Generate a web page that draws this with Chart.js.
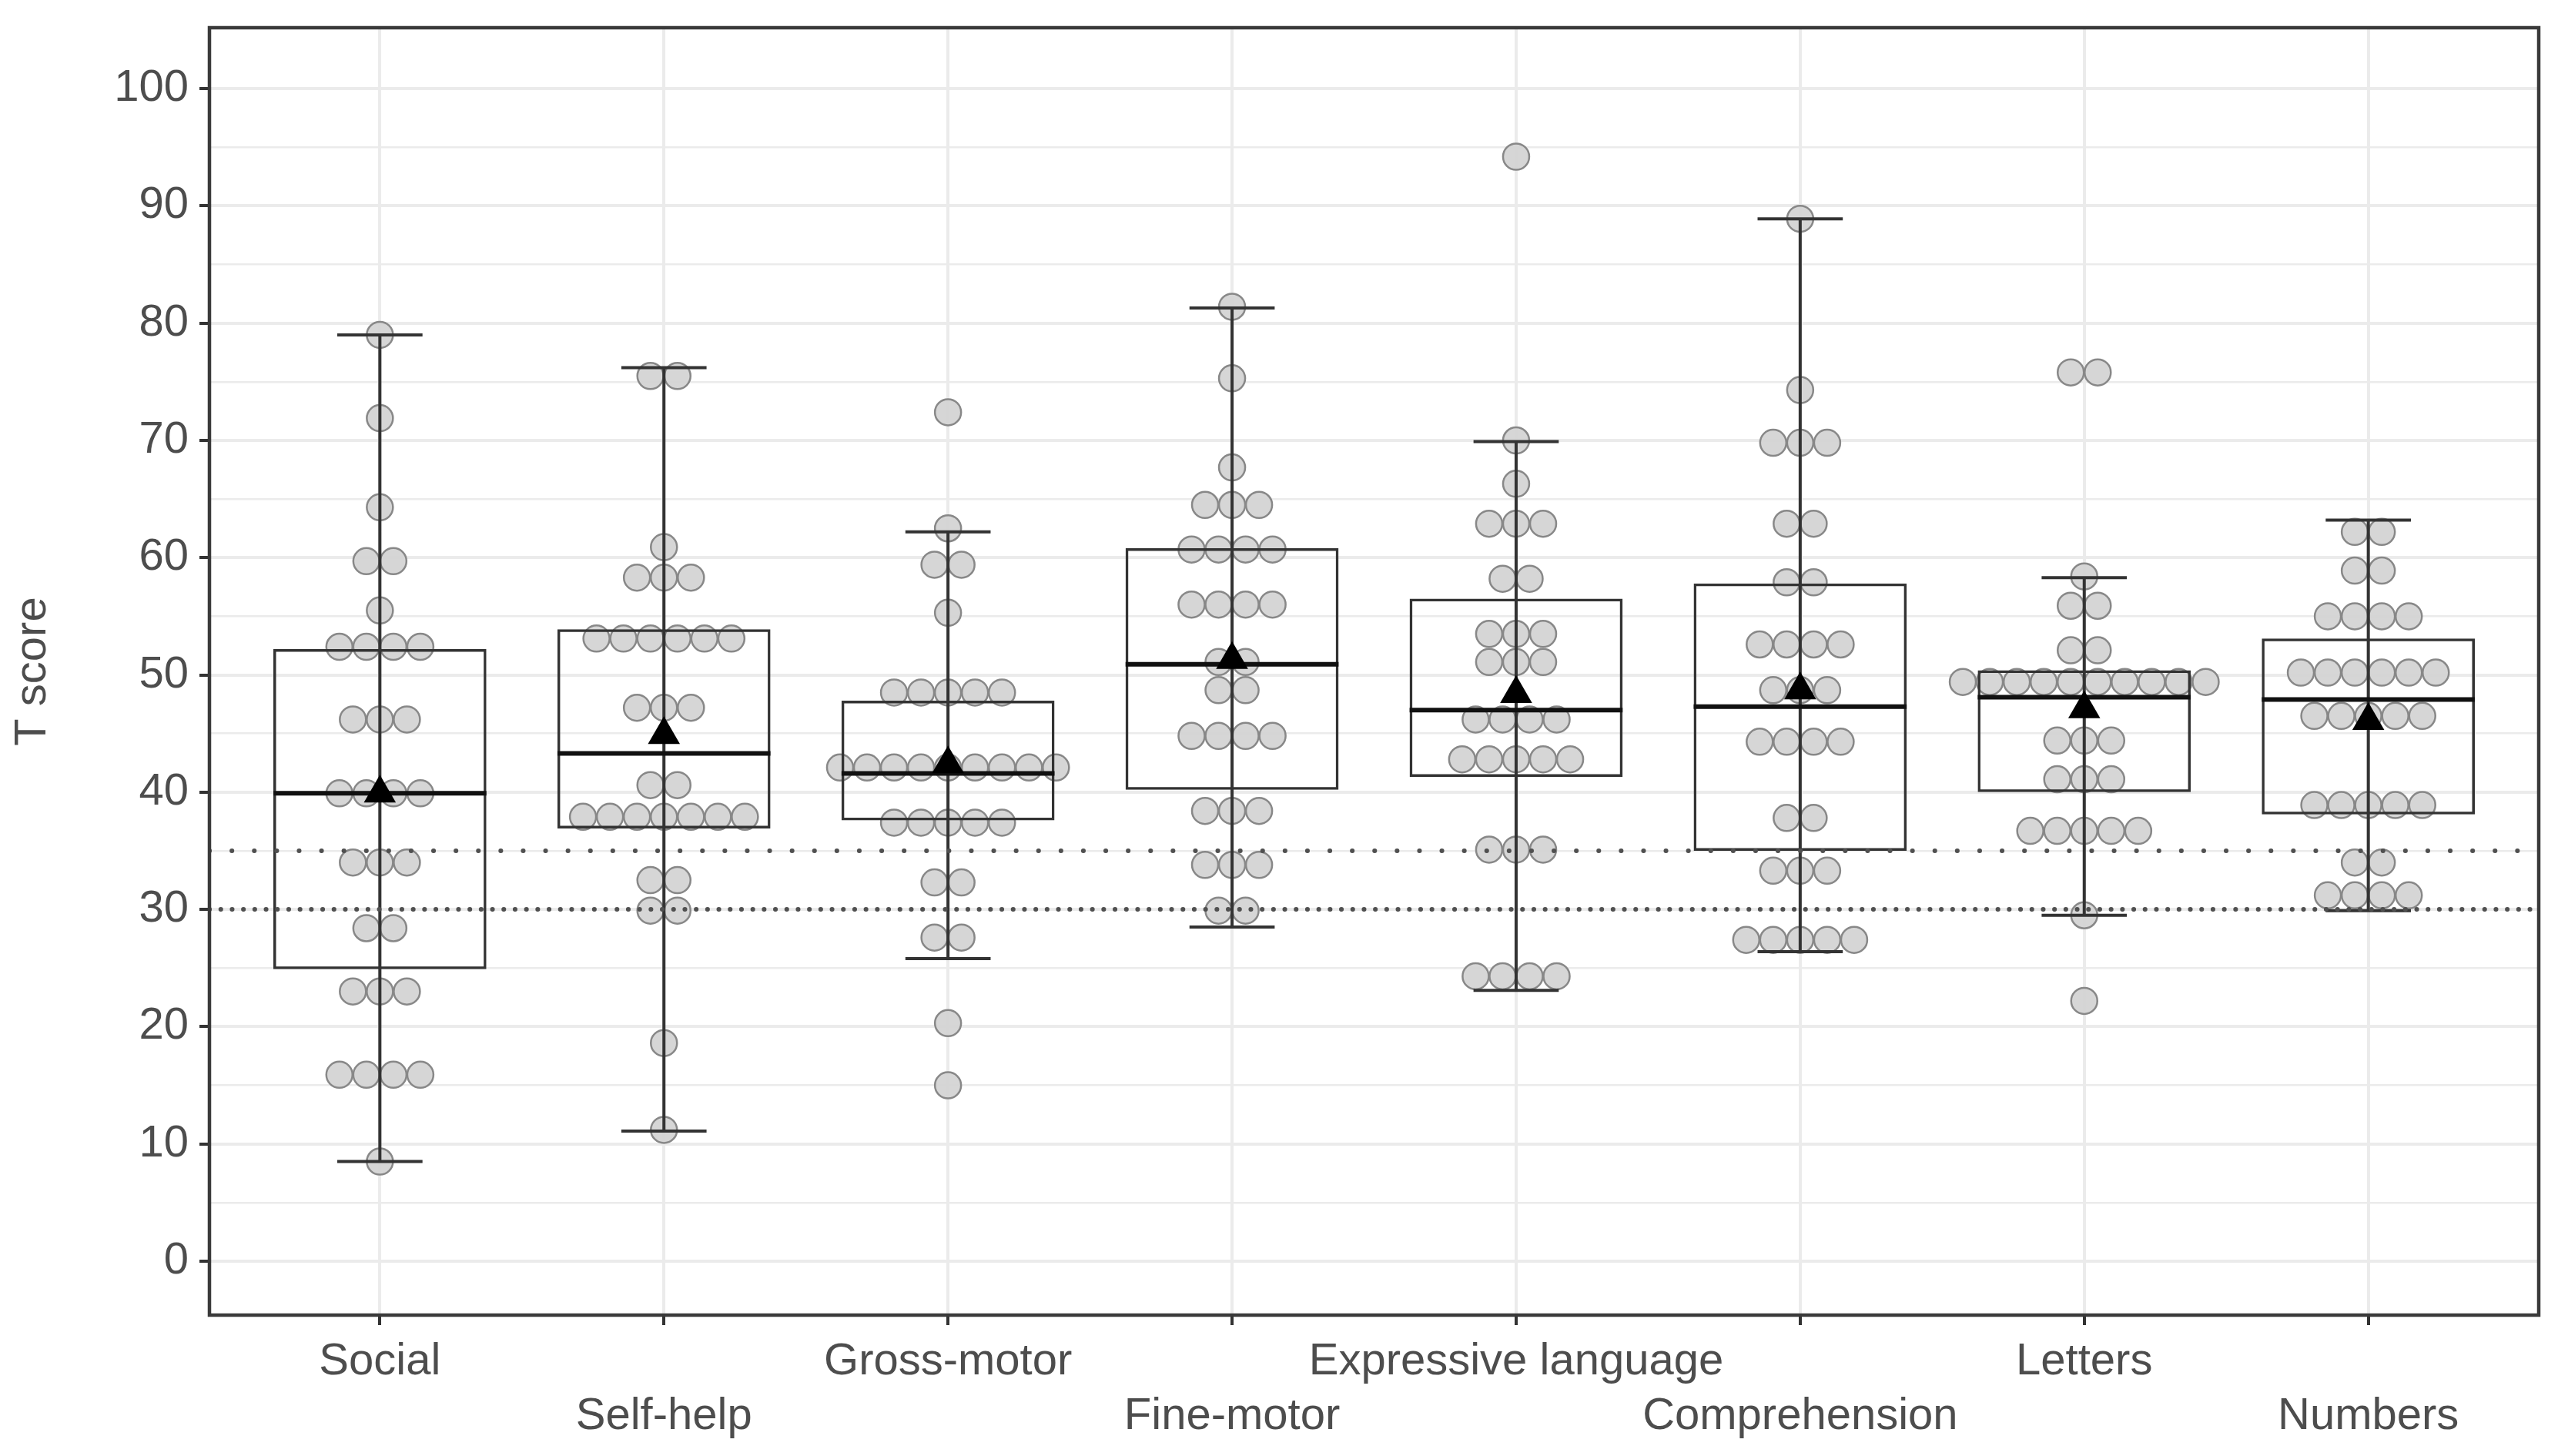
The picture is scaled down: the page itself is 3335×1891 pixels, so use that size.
<!DOCTYPE html>
<html>
<head>
<meta charset="utf-8">
<script src="https://cdn.jsdelivr.net/npm/chart.js@4.4.1/dist/chart.umd.min.js"></script>
<style>
  html, body { margin: 0; padding: 0; background: #fff; }
  canvas { display: block; }
</style>
</head>
<body>
<canvas id="chart" width="3335" height="1891"></canvas>
<script>
// categories on the x axis
const categories = ["Social", "Self-help", "Gross-motor", "Fine-motor",
                    "Expressive language", "Comprehension", "Letters", "Numbers"];

// individual T scores (dotplot bins)
const social = [79.0, 71.9, 64.3, 59.7, 59.7, 55.5, 52.4, 52.4, 52.4, 52.4,
                46.2, 46.2, 46.2, 39.9, 39.9, 39.9, 39.9, 34.0, 34.0, 34.0,
                28.4, 28.4, 23.0, 23.0, 23.0, 15.9, 15.9, 15.9, 15.9, 8.5];
const selfHelp = [75.5, 75.5, 60.9, 58.3, 58.3, 58.3, 53.1, 53.1, 53.1, 53.1,
                  53.1, 53.1, 47.2, 47.2, 47.2, 40.6, 40.6, 37.9, 37.9, 37.9,
                  37.9, 37.9, 37.9, 37.9, 32.5, 32.5, 29.9, 29.9, 18.6, 11.2];
const grossMotor = [72.4, 62.5, 59.4, 59.4, 55.3, 48.5, 48.5, 48.5, 48.5, 48.5,
                    42.1, 42.1, 42.1, 42.1, 42.1, 42.1, 42.1, 42.1, 42.1, 37.4,
                    37.4, 37.4, 37.4, 37.4, 32.3, 32.3, 27.6, 27.6, 20.3, 15.0];
const fineMotor = [81.4, 75.3, 67.7, 64.5, 64.5, 64.5, 60.7, 60.7, 60.7, 60.7,
                   56.0, 56.0, 56.0, 56.0, 51.1, 51.1, 48.7, 48.7, 44.8, 44.8,
                   44.8, 44.8, 38.4, 38.4, 38.4, 33.8, 33.8, 33.8, 29.9, 29.9];
const expressive = [94.2, 70.0, 66.3, 62.9, 62.9, 62.9, 58.2, 58.2, 53.5, 53.5,
                    53.5, 51.1, 51.1, 51.1, 46.2, 46.2, 46.2, 46.2, 42.8, 42.8,
                    42.8, 42.8, 42.8, 35.1, 35.1, 35.1, 24.3, 24.3, 24.3, 24.3];
const comprehension = [88.9, 74.3, 69.8, 69.8, 69.8, 62.9, 62.9, 57.9, 57.9, 52.6,
                       52.6, 52.6, 52.6, 48.7, 48.7, 48.7, 44.3, 44.3, 44.3, 44.3,
                       37.8, 37.8, 33.3, 33.3, 33.3, 27.4, 27.4, 27.4, 27.4, 27.4];
const letters = [75.8, 75.8, 58.4, 55.9, 55.9, 52.1, 52.1, 49.4, 49.4, 49.4,
                 49.4, 49.4, 49.4, 49.4, 49.4, 49.4, 49.4, 44.4, 44.4, 44.4,
                 41.1, 41.1, 41.1, 36.7, 36.7, 36.7, 36.7, 36.7, 29.5, 22.2];
const numbers = [62.2, 62.2, 58.9, 58.9, 55.0, 55.0, 55.0, 55.0, 50.2, 50.2,
                 50.2, 50.2, 50.2, 50.2, 46.5, 46.5, 46.5, 46.5, 46.5, 38.9,
                 38.9, 38.9, 38.9, 38.9, 34.0, 34.0, 31.2, 31.2, 31.2, 31.2];

// box statistics per category
const q1 = [24.9, 36.9, 37.6, 40.2, 41.3, 35.0, 40.0, 38.1];
const medians = [39.9, 43.3, 41.6, 50.9, 47.0, 47.3, 48.1, 47.9];
const q3 = [52.2, 53.9, 47.8, 60.8, 56.5, 57.8, 50.4, 53.1];
const whiskerLow = [8.5, 11.1, 25.8, 28.5, 23.1, 26.4, 29.5, 29.9];
const whiskerHigh = [79.0, 76.2, 62.2, 81.3, 69.9, 88.9, 58.3, 63.2];
const means = [39.9, 44.9, 42.4, 51.3, 48.4, 48.7, 47.1, 46.1];

// reference lines and y ticks
const cutoffs = [35, 30];
const yTicks = [0, 10, 20, 30, 40, 50, 60, 70, 80, 90, 100];

const scoreLists = [social, selfHelp, grossMotor, fineMotor, expressive, comprehension, letters, numbers];

const FONT = "'Liberation Sans', Arial, sans-serif";
const TEXT = "#4d4d4d";
const X_MIN = 0.4, X_MAX = 8.6;
const Y_MIN = -4.6, Y_MAX = 105.2;
const BOX_W = 0.75, CAP_W = 0.3, DOT_STEP = 0.095;

// centre identical values side by side, like a centred dotplot
function stackDots(values, xc) {
  const pts = [];
  let i = 0;
  while (i < values.length) {
    let j = i;
    while (j < values.length && values[j] === values[i]) j++;
    const n = j - i;
    for (let k = 0; k < n; k++) {
      pts.push({ x: xc + (k - (n - 1) / 2) * DOT_STEP, y: values[i] });
    }
    i = j;
  }
  return pts;
}

const dotData = [];
scoreLists.forEach((vals, i) => dotData.push(...stackDots(vals, i + 1)));

const boxData = categories.map((_, i) => ({ x: i + 1, y: [q1[i], q3[i]] }));

const whiskerData = [];
const capData = [];
const medianData = [];
categories.forEach((_, i) => {
  const x = i + 1;
  whiskerData.push({ x, y: whiskerLow[i] }, { x, y: whiskerHigh[i] }, { x, y: null });
  capData.push({ x: x - CAP_W / 2, y: whiskerLow[i] }, { x: x + CAP_W / 2, y: whiskerLow[i] }, { x, y: null });
  capData.push({ x: x - CAP_W / 2, y: whiskerHigh[i] }, { x: x + CAP_W / 2, y: whiskerHigh[i] }, { x, y: null });
  medianData.push({ x: x - BOX_W / 2, y: medians[i] }, { x: x + BOX_W / 2, y: medians[i] }, { x, y: null });
});
const meanData = means.map((m, i) => ({ x: i + 1, y: m }));

const panelBorder = {
  id: "panelBorder",
  afterDraw(chart) {
    const { ctx, chartArea: a } = chart;
    ctx.save();
    ctx.strokeStyle = "#3a3a3a";
    ctx.lineWidth = 4.5;
    ctx.strokeRect(a.left, a.top, a.right - a.left, a.bottom - a.top);
    ctx.restore();
  }
};

const lineDefaults = { type: "line", pointRadius: 0, fill: false, spanGaps: false, borderColor: "#333" };

new Chart(document.getElementById("chart"), {
  type: "scatter",
  data: {
    datasets: [
      {
        label: "Scores",
        data: dotData,
        order: 10,
        pointRadius: 17,
        pointBorderWidth: 2.5,
        backgroundColor: "rgba(212,212,212,0.95)",
        borderColor: "#888"
      },
      {
        type: "bar",
        label: "IQR",
        data: boxData,
        order: 5,
        backgroundColor: "rgba(0,0,0,0)",
        borderColor: "#333",
        borderWidth: 3.5,
        borderSkipped: false,
        categoryPercentage: 1,
        barPercentage: BOX_W
      },
      Object.assign({}, lineDefaults, { label: "Whisker", data: whiskerData, order: 4, borderWidth: 4 }),
      Object.assign({}, lineDefaults, { label: "Caps", data: capData, order: 4, borderWidth: 4 }),
      Object.assign({}, lineDefaults, { label: "Median", data: medianData, order: 3, borderWidth: 6, borderColor: "#111" }),
      Object.assign({}, lineDefaults, {
        label: "Cut-off " + cutoffs[0],
        data: [{ x: X_MIN, y: cutoffs[0] }, { x: X_MAX, y: cutoffs[0] }],
        order: 2, borderWidth: 6, borderColor: "#505050",
        borderCapStyle: "round", borderDash: [0.1, 29]
      }),
      Object.assign({}, lineDefaults, {
        label: "Cut-off " + cutoffs[1],
        data: [{ x: X_MIN, y: cutoffs[1] }, { x: X_MAX, y: cutoffs[1] }],
        order: 2, borderWidth: 6, borderColor: "#505050",
        borderCapStyle: "round", borderDash: [0.1, 14.6]
      }),
      {
        label: "Mean",
        data: meanData,
        order: 1,
        pointStyle: "triangle",
        pointRadius: 24,
        pointBorderWidth: 0,
        backgroundColor: "#000",
        borderColor: "#000"
      }
    ]
  },
  options: {
    responsive: false,
    devicePixelRatio: 1,
    animation: false,
    layout: { padding: { top: 36, right: 38, left: 0, bottom: 0 } },
    plugins: { legend: { display: false }, tooltip: { enabled: false } },
    scales: {
      x: {
        type: "linear",
        min: X_MIN,
        max: X_MAX,
        offset: false,
        afterBuildTicks: (axis) => { axis.ticks = categories.map((_, i) => ({ value: i + 1 })); },
        afterFit: (axis) => {
          axis.height = 183;
          axis.paddingLeft = 0;
          axis.paddingRight = 0;
        },
        border: { display: false },
        grid: {
          offset: false,
          color: "#ebebeb",
          lineWidth: 4,
          tickLength: 13,
          tickColor: "#333",
          tickWidth: 4
        },
        ticks: {
          autoSkip: false,
          maxRotation: 0,
          padding: 13,
          color: TEXT,
          font: { family: FONT, size: 58, lineHeight: 1.22 },
          callback: (v) => {
            const i = Math.round(v) - 1;
            return i % 2 === 0 ? categories[i] : ["", categories[i]];
          }
        }
      },
      y: {
        type: "linear",
        min: Y_MIN,
        max: Y_MAX,
        afterFit: (axis) => {
          axis.width = 272;
          axis.paddingTop = 0;
          axis.paddingBottom = 0;
        },
        border: { display: false },
        grid: {
          color: (c) => (c.tick && (c.tick.value < 0 || c.tick.value > 100)) ? "rgba(0,0,0,0)" : "#ebebeb",
          lineWidth: (c) => (c.tick && yTicks.includes(c.tick.value)) ? 4 : 2.5,
          tickLength: 13,
          tickColor: (c) => (c.tick && yTicks.includes(c.tick.value)) ? "#333" : "rgba(0,0,0,0)",
          tickWidth: 4
        },
        ticks: {
          stepSize: 5,
          padding: 14,
          color: TEXT,
          font: { family: FONT, size: 58 },
          callback: (v) => yTicks.includes(v) ? String(v) : ""
        },
        title: {
          display: true,
          text: "T score",
          color: TEXT,
          font: { family: FONT, size: 58, lineHeight: 1.2 },
          padding: { top: 8, bottom: 0 }
        }
      }
    }
  },
  plugins: [panelBorder]
});
</script>
</body>
</html>
